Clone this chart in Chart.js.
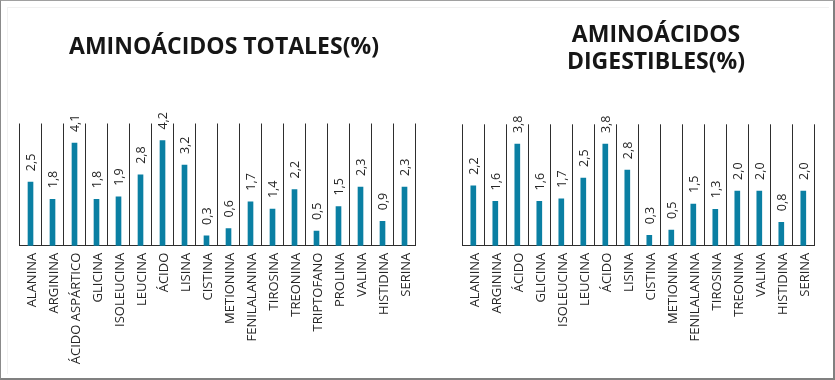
<!DOCTYPE html>
<html>
<head>
<meta charset="utf-8">
<script src="https://cdn.jsdelivr.net/npm/chart.js@4.4.1/dist/chart.umd.min.js"></script>
<style>
  html, body { margin:0; padding:0; background:#fff; }
  #page { position:relative; width:835px; height:380px; overflow:hidden; background:#fff; }
  .frame { position:absolute; left:0; top:0; border-left:1px solid #8a8a8a; border-top:1px solid #a0a0a0; border-right:2px solid #808080; border-bottom:2px solid #808080; box-sizing:content-box; width:832px; height:377px; }
  .inner { position:absolute; left:7px; top:7px; right:6px; bottom:6px; border-left:1px solid #f1f1f1; border-top:1px solid #f1f1f1; }
  .title { position:absolute; font-family:"Open Sans", sans-serif; font-weight:700; font-size:23px; line-height:27px; color:#161616; text-align:center; white-space:nowrap; }
  canvas { position:absolute; top:0; }
</style>
</head>
<body>
<div id="page">
  <div class="frame"></div>
  <div class="inner"></div>
  <canvas id="c1" width="420" height="378" style="left:0"></canvas>
  <canvas id="c2" width="413" height="378" style="left:420px"></canvas>
  <div class="title" id="t1" style="left:24px; width:400px; top:32px;"></div>
  <div class="title" id="t2" style="left:456px; width:400px; top:20px;"></div>
</div>
<script>
// ---- data ----
const titleTotal = "AMINOÁCIDOS TOTALES(%)";
const titleDigest = ["AMINOÁCIDOS", "DIGESTIBLES(%)"];

const categoriesTotal = ["ALANINA", "ARGININA", "ÁCIDO ASPÁRTICO", "GLICINA", "ISOLEUCINA", "LEUCINA", "ÁCIDO", "LISINA", "CISTINA", "METIONINA", "FENILALANINA", "TIROSINA", "TREONINA", "TRIPTOFANO", "PROLINA", "VALINA", "HISTIDINA", "SERINA"];
const valuesTotal = [2.5, 1.8, 4.1, 1.8, 1.9, 2.8, 4.2, 3.2, 0.3, 0.6, 1.7, 1.4, 2.2, 0.5, 1.5, 2.3, 0.9, 2.3];

const categoriesDigest = ["ALANINA", "ARGININA", "ÁCIDO", "GLICINA", "ISOLEUCINA", "LEUCINA", "ÁCIDO", "LISINA", "CISTINA", "METIONINA", "FENILALANINA", "TIROSINA", "TREONINA", "VALINA", "HISTIDINA", "SERINA"];
const valuesDigest = [2.2, 1.6, 3.8, 1.6, 1.7, 2.5, 3.8, 2.8, 0.3, 0.5, 1.5, 1.3, 2.0, 2.0, 0.8, 2.0];

// ---- titles ----
document.getElementById('t1').textContent = titleTotal;
document.getElementById('t2').innerHTML = titleDigest.join('<br>');

const BAR = '#0a7fa3';
const GRID = '#2e2e2e';
const TXT = '#262626';

const valueLabels = {
  id: 'valueLabels',
  afterDatasetsDraw(chart) {
    const ctx = chart.ctx;
    const meta = chart.getDatasetMeta(0);
    const vals = chart.data.datasets[0].data;
    ctx.save();
    ctx.fillStyle = TXT;
    ctx.font = '12.5px "Open Sans"';
    ctx.textAlign = 'left';
    ctx.textBaseline = 'alphabetic';
    meta.data.forEach((bar, i) => {
      const txt = vals[i].toFixed(1).replace('.', ',');
      ctx.save();
      ctx.translate(bar.x + 4.4, bar.y - 11);
      ctx.rotate(-Math.PI / 2);
      ctx.fillText(txt, 0, 0);
      ctx.restore();
    });
    ctx.restore();
  }
};

function makeChart(id, labels, values, yMax, pad, axisH) {
  return new Chart(document.getElementById(id), {
    type: 'bar',
    data: {
      labels: labels,
      datasets: [{ data: values, backgroundColor: BAR, barThickness: 5, base: -0.1 }]
    },
    options: {
      responsive: false,
      animation: false,
      devicePixelRatio: 1,
      layout: { padding: pad },
      plugins: { legend: { display: false }, tooltip: { enabled: false }, title: { display: false } },
      scales: {
        x: {
          grid: { color: GRID, lineWidth: 1, drawTicks: false, offset: true },
          border: { color: GRID, width: 1 },
          ticks: {
            minRotation: 90, maxRotation: 90, autoSkip: false, padding: 7, labelOffset: 2,
            color: TXT, font: { family: '"Open Sans"', size: 13 }
          },
          afterFit: (s) => { s.height = axisH; s.paddingLeft = 0; s.paddingRight = 0; }
        },
        y: { display: false, min: -0.1, max: yMax }
      }
    },
    plugins: [valueLabels]
  });
}

makeChart('c1', categoriesTotal, valuesTotal, 4.9, { left: 19.5, right: 4.5, top: 123.5, bottom: 0 }, 378 - 245.7);
makeChart('c2', categoriesDigest, valuesDigest, 4.56, { left: 42.3, right: 18.7, top: 124.3, bottom: 0 }, 378 - 245.7);
</script>
</body>
</html>
